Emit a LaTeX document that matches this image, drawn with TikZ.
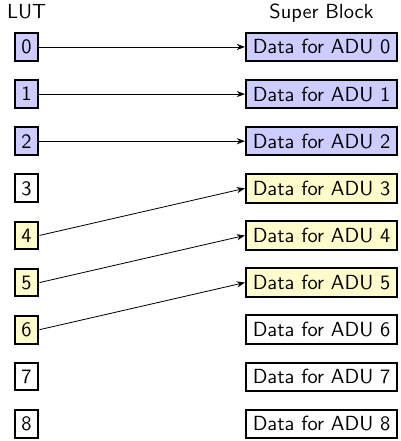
\documentclass[tikz,border=0pt]{standalone}
\usetikzlibrary{arrows.meta, positioning}

\begin{document}
\begin{tikzpicture}[
      every node/.style={font=\sffamily},
      lut/.style={rectangle, draw, line width=1pt, align=center},
      blk/.style={rectangle, draw, line width=1pt, align=center},
      title/.style={inner sep=3.33pt},
      arrow/.style={-{Stealth[length=4pt, width=3pt]}}
    ]
    \useasboundingbox (0,0) rectangle (196pt,-216pt);

    % lookup table entries
    \foreach \i/\c in {0/blue!20, 1/blue!20, 2/blue!20, 3/white, 4/yellow!20,
                       5/yellow!20, 6/yellow!20, 7/white, 8/white}
      \node[lut, fill=\c] (lut\i) at (13pt, {-23pt-23.08pt*\i}) {\i};

    % super block entries
    \foreach \i/\c in {0/blue!20, 1/blue!20, 2/blue!20, 3/yellow!20, 4/yellow!20,
                       5/yellow!20, 6/white, 7/white, 8/white}
      \node[blk, fill=\c] (sb\i) at (157.5pt, {-23pt-23.08pt*\i}) {Data for ADU \i};

    \node[title, above=3pt of lut0] (luttitle) {LUT};
    \node[title, anchor=base] (sbtitle) at (luttitle.base -| sb0) {Super Block};

    \foreach \a/\b in {0/0, 1/1, 2/2, 4/3, 5/4, 6/5}
      \draw[arrow] (lut\a.east) -- (sb\b.west);
  \end{tikzpicture}
\end{document}
